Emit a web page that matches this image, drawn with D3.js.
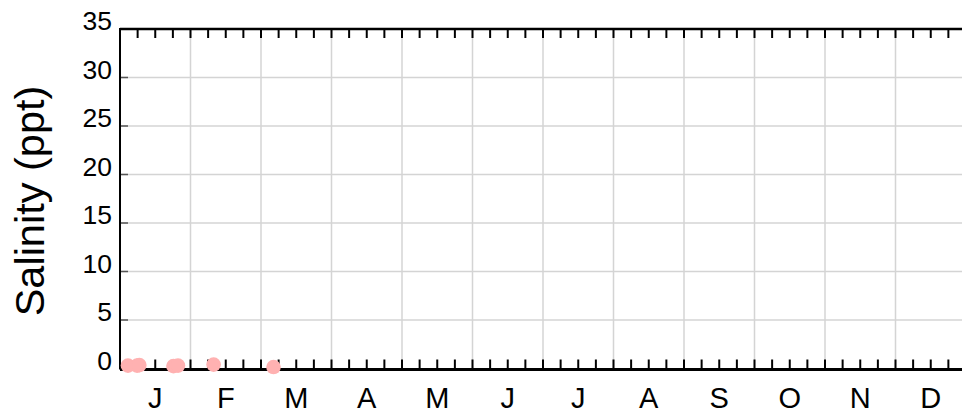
<!DOCTYPE html>
<html><head><meta charset="utf-8">
<script src="https://cdn.jsdelivr.net/npm/d3@7"></script>
<style>html,body{margin:0;padding:0;background:#fff;overflow:hidden}</style>
</head><body>
<svg id="c" width="962" height="417"></svg>
<script>
const monthLabels = ["J","F","M","A","M","J","J","A","S","O","N","D"];
const daysInMonth = [31,29,31,30,31,30,31,31,30,31,30,31];
const yTicks = [0,5,10,15,20,25,30,35];
// observations: month index (0=Jan), day of month, salinity (ppt)
const obsMonth = [0,0,0,0,0,1,2];
const obsDay   = [4,8,9,24,26,10,6];
const obsSal   = [0.3,0.3,0.35,0.25,0.3,0.4,0.15];

const svg = d3.select("#c");
const L = 120, R = 966, T = 29, B = 368.5;
const x = d3.scaleLinear().domain([0,12]).range([L,R]);
const y = d3.scaleLinear().domain([0,35]).range([B,T]);
const font = "'Liberation Sans', Arial, sans-serif";

// grid
svg.append("g").selectAll("line").data(d3.range(1,12)).join("line")
  .attr("x1",d=>x(d)).attr("x2",d=>x(d)).attr("y1",T).attr("y2",B)
  .attr("stroke","#d4d4d4").attr("stroke-width",1.5);
svg.append("g").selectAll("line").data(yTicks.filter(v=>v>0&&v<35)).join("line")
  .attr("x1",L).attr("x2",962).attr("y1",d=>y(d)).attr("y2",d=>y(d))
  .attr("stroke","#d4d4d4").attr("stroke-width",1.5);
// small y ticks
svg.append("g").selectAll("line").data(yTicks.filter(v=>v>0&&v<35)).join("line")
  .attr("x1",L).attr("x2",L+8).attr("y1",d=>y(d)).attr("y2",d=>y(d))
  .attr("stroke","#555").attr("stroke-width",1.5);

// quarter-month ticks top and bottom
const qt = d3.range(0,48).map(i=>i/4);
svg.append("g").selectAll("line").data(qt.filter(d=>d>0)).join("line")
  .attr("x1",d=>x(d)).attr("x2",d=>x(d)).attr("y1",T).attr("y2",T+9)
  .attr("stroke","#000").attr("stroke-width",2);
svg.append("g").selectAll("line").data(qt.filter(d=>d>0)).join("line")
  .attr("x1",d=>x(d)).attr("x2",d=>x(d)).attr("y1",B).attr("y2",B-9)
  .attr("stroke","#000").attr("stroke-width",2);

// frame
svg.append("line").attr("x1",L).attr("x2",962).attr("y1",T).attr("y2",T).attr("stroke","#000").attr("stroke-width",2.5);
svg.append("line").attr("x1",L).attr("x2",L).attr("y1",T-1).attr("y2",B+1).attr("stroke","#000").attr("stroke-width",2);
svg.append("line").attr("x1",L).attr("x2",962).attr("y1",B+1).attr("y2",B+1).attr("stroke","#000").attr("stroke-width",3);

// y tick labels
svg.append("g").selectAll("text").data(yTicks).join("text")
  .attr("x",112).attr("y",d=>y(d)+1).attr("text-anchor","end")
  .attr("font-family",font).attr("font-size",26.5).attr("fill","#000").text(d=>d);
// x labels
svg.append("g").selectAll("text").data(monthLabels).join("text")
  .attr("x",(d,i)=>x(i+0.5)).attr("y",408).attr("text-anchor","middle")
  .attr("font-family",font).attr("font-size",29).attr("fill","#000").text(d=>d);
// y title
svg.append("text").attr("transform","translate(44,201) rotate(-90)")
  .attr("text-anchor","middle").attr("font-family",font).attr("font-size",41.5)
  .attr("fill","#000").text("Salinity (ppt)");

// points
svg.append("g").selectAll("circle").data(obsSal.map((v,i)=>({m:obsMonth[i],d:obsDay[i],v})))
  .join("circle")
  .attr("cx",p=>x(p.m+(p.d-0.5)/daysInMonth[p.m])).attr("cy",p=>y(p.v))
  .attr("r",7.3).attr("fill","#ffb1b1");
</script>
</body></html>
